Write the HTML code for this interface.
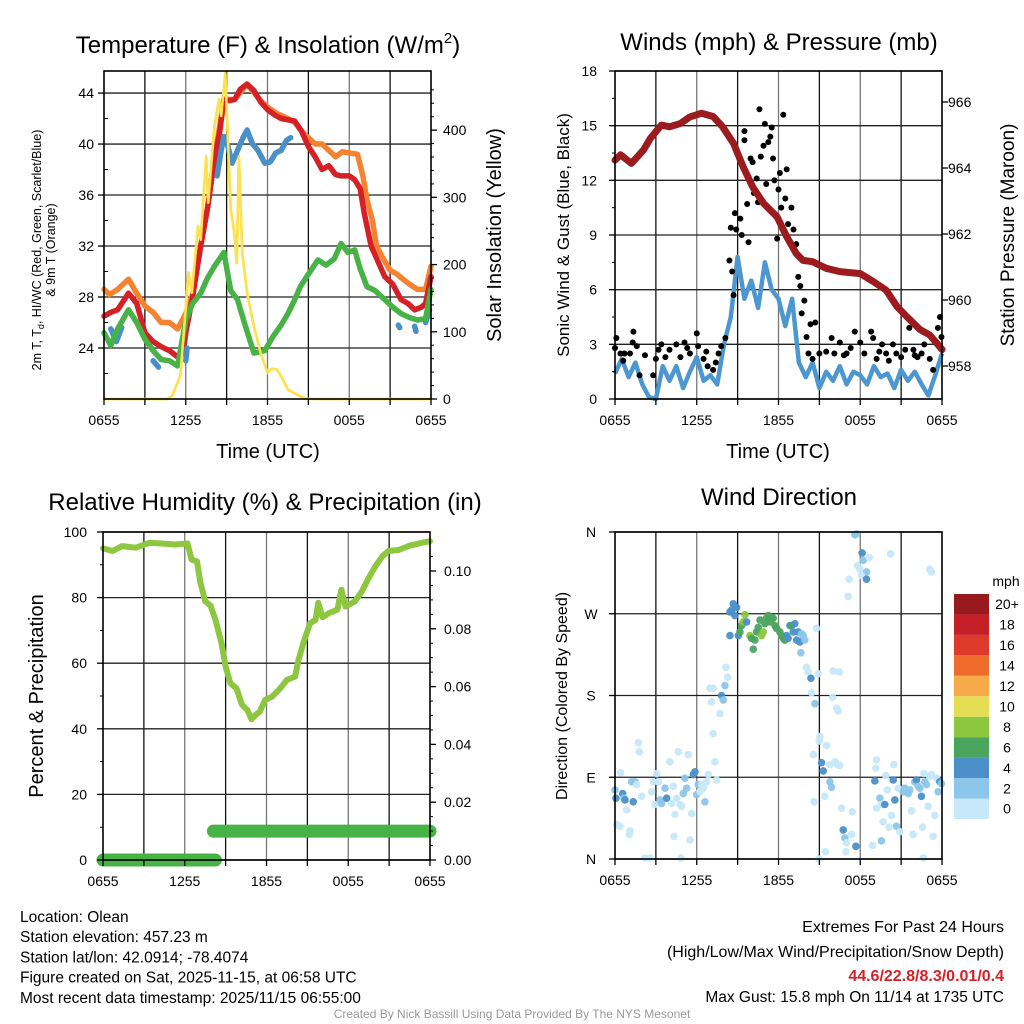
<!DOCTYPE html>
<html><head><meta charset="utf-8">
<style>
html,body{margin:0;padding:0;background:#fff;}
svg{display:block;font-family:"Liberation Sans",sans-serif;}
</style></head>
<body>
<svg id="c" width="1024" height="1024" viewBox="0 0 1024 1024" xmlns="http://www.w3.org/2000/svg">
<rect width="1024" height="1024" fill="#fff"/>
</svg>
<script>
// ---------- Temperature panel data ----------
const redHours=[0,0.5,1,1.8,2.4,3,3.6,4.2,4.8,5.4,5.8,6,6.5,7.1,7.6,8.1,8.5,8.8,9.2,9.6,10,10.5,11,11.5,12,12.5,13,13.5,14,14.5,15,15.5,16,16.5,17,17.4,18,18.4,18.8,19.1,19.6,20.1,20.6,21.2,21.8,22.3,22.8,23.3,23.6,24];
const redVals=[26.5,26.8,27,28.3,27.5,25.2,24.5,24.1,23.8,23.3,23.6,25.2,28,32,35,38.8,41,43.5,43.4,43.5,44.3,44.7,44.2,43.3,42.7,42.3,42,41.9,41.8,41,39.8,39,38,38.3,37.6,37.5,37.5,37.2,36.5,34.6,32,30.8,29.6,29,27.8,27.5,27,27.2,27.5,29.6];
const orangeHours=[0,0.4,1,1.8,2.4,3,3.6,4.2,4.8,5.4,6,6.5,7.1,7.6,8.1,8.8,9.6,10.5,11.5,12,12.7,13.5,14,14.5,15,15.5,16,16.5,17,17.5,18,18.6,19,19.3,19.7,20,20.5,21,21.5,22.3,23,23.6,24];
const orangeVals=[28.6,28.2,28.6,29.4,28.3,27.3,26.8,26,26,25.5,26.7,28.2,32,35,38.8,43.5,43.5,44.7,43.4,42.9,42.4,42,41.7,41,40.5,40,40,39.5,39,39.4,39.3,39.2,37.5,35.6,34,32,31,30.1,29.8,29.1,28.6,28.6,30.4];
const greenHours=[0,0.5,1,1.8,2.4,3,3.6,4.2,4.8,5.4,6,6.5,7.1,7.6,8.1,8.8,9.3,9.8,10.3,11,11.8,12.4,13,13.5,14,14.4,15,15.7,16.3,16.9,17.4,17.9,18.4,18.8,19.3,19.9,20.6,21.2,21.8,22.4,23,23.6,24];
const greenVals=[25.2,24.2,25.5,27,26,24.7,23.8,23.1,23,22.6,26.2,27.5,28.3,29.5,30.4,31.5,28.5,27.8,26,23.6,23.8,24.9,25.8,26.7,27.8,28.8,29.8,30.9,30.5,31,32.2,31.5,31.7,30.2,28.8,28.5,27.8,27.2,26.7,26.4,26.2,26.3,28.6];
const blueHours=[0.5,0.9,1.3,null,3.6,4.0,null,6.0,6.1,null,8.3,8.6,8.8,9.1,9.4,9.8,10.2,10.5,10.9,11.3,11.8,12.2,12.6,13,13.4,13.7,null,21.6,21.7,null,22.8,22.9,null,23.6,23.9];
const blueVals=[25.5,24.5,25.6,null,23,22.5,null,23,24,null,37.5,39.5,40.6,39.8,38.5,39.5,40.5,41.1,40,39.5,38.5,38.6,39.3,39.5,40.3,40.5,null,25.8,25.6,null,25.7,25.3,null,26,27];
const solarHours=[0,4.65,5.0,5.6,5.9,6.2,6.45,6.9,7.1,7.5,7.65,8.1,8.45,8.6,8.9,9.3,9.55,9.75,9.9,10.15,10.5,11,11.5,12,12.3,12.7,13.1,13.5,14.4,14.9,24];
const solarVals=[0,0,5,34,110,188,158,257,237,361,292,406,446,421,485,282,250,202,361,217,158,108,68,39,45,44,30,14,4,0,0];
const tempTicks=[24,28,32,36,40,44];
const solarTicks=[0,100,200,300,400];
const timeTickHours=[0,6,12,18,24];
const timeTickLabels=["0655","1255","1855","0055","0655"];

// ---------- Wind panel data ----------
const windHours=[0,0.5,1,1.5,2,2.5,3,3.5,4,4.5,5,5.5,6,6.5,7,7.5,8,8.5,9,9.5,10,10.5,11,11.5,12,12.5,13,13.5,14,14.5,15,15.5,16,16.5,17,17.5,18,18.5,19,19.5,20,20.5,21,21.5,22,22.5,23,23.5,24];
const windVals=[1.4,2.2,1.2,2,0.8,0.1,0,1.8,1,1.8,0.6,1.5,2.3,1,1.3,0.8,3,4.5,7.8,5.5,6.5,5,7.5,6,5.5,4,5.5,2,1.2,2,0.6,1.5,1,1.8,0.8,1.5,1.3,0.8,1.8,1.2,1.4,0.6,1.6,1,1.5,0.8,0.2,1.3,2.5];
const gustHours=[0,0.1,0.4,0.7,1.1,1.3,1.35,1.6,1.8,2.8,3.2,3.4,3.7,4,4.5,4.8,5.1,5.5,6,6.1,6.5,6.8,7.2,7.6,7.8,8.1,8.4,8.5,8.6,8.7,8.8,8.9,9.2,9.3,9.5,9.5,9.7,9.8,9.95,10.1,10.2,10.4,10.5,10.6,10.7,10.9,11,11.1,11.25,11.4,11.5,11.6,11.7,11.9,12,12.1,12.2,12.35,12.5,12.6,12.7,12.95,13.1,13.3,13.45,13.6,13.7,13.9,14.06,14.35,14.7,14.2,14.5,15,15.5,15.9,16.1,16.5,17,17.6,18,18.3,18.8,18.95,19.2,19.6,19.9,20.4,20.65,21,21.6,21.9,22.2,22.5,22.7,23.1,23.35,23.6,23.7,23.85,23.96,0.6,2.2,3.0,5.3,6.7,7.4,16.8,17.3,19.4,20.1,21.3,22.0];
const gustVals=[2.8,3.35,2.5,2.5,2.5,3.1,3.7,2.9,1.3,1.3,2.7,3,2.3,2.7,3,2.3,3.1,2.5,3.6,2.9,2.2,1.8,1.6,2.5,2.9,3.35,7.6,9.4,7,5.7,10.2,9.3,9.9,9,14.7,14.2,10.7,8.6,13.2,13,11.3,12.1,10.8,15.9,13.3,13.9,15.1,11.8,14.1,14.4,14.9,13.2,12,8.8,11.5,12.4,10.5,15.6,11,12.6,9.6,10.5,9.3,8.5,6.7,6.2,4.7,5.4,3.4,4.1,4.2,2.5,2.2,2.5,2.6,3.35,2.5,3.1,2.5,3.7,3.1,2.5,3.7,3.35,2.2,3,2.5,3,2.5,2.3,3.9,2.7,2.3,2.5,3,2.2,1.6,3.1,3.9,4.5,3.4,2.1,2.4,2.2,2.8,2.6,2.0,2.4,2.8,2.6,2.1,2.7,2.4];
const pressHours=[0,0.4,1.2,2.1,2.6,3.4,4.0,4.8,5.5,6.35,7.2,7.9,8.7,9.4,10.1,10.9,11.9,12.6,13.3,13.8,14.5,15.5,16.5,18,18.95,19.9,20.7,21.4,22.4,23.1,23.6,24];
const pressVals=[964.24,964.4,964.14,964.55,964.9,965.3,965.25,965.35,965.55,965.66,965.56,965.25,964.75,964.04,963.43,962.93,962.52,961.92,961.41,961.2,961.16,960.96,960.86,960.8,960.56,960.3,959.8,959.5,959.1,958.94,958.7,958.5];
const windTicks=[0,3,6,9,12,15,18];
const pressTicks=[958,960,962,964,966];

// ---------- RH panel data ----------
const rhHours=[0,0.7,1.4,2.4,3.4,4.3,5.3,6.2,6.5,6.9,7.15,7.5,7.9,8.25,8.7,9,9.35,9.8,10.2,10.6,10.9,11.2,11.5,11.9,12.4,13,13.5,14.1,14.35,14.7,15.2,15.6,15.8,16.1,16.6,17.2,17.5,17.8,18.5,19,19.5,20,20.5,20.95,21.7,22.4,23.4,24];
const rhVals=[95,94.2,95.7,95.2,96.7,96.5,96.2,96.5,91.6,91,84.5,78.9,77.5,73.3,66.1,59,53.9,52.3,47.3,45.7,42.9,44.2,45.2,48.8,49.8,52.3,54.9,55.9,61,66.1,72.2,73.2,78.4,74,75.3,76.3,82.4,77.3,78.9,81.9,86,89.6,92.6,94.2,94.5,95.7,96.7,97.2];
const precipHours=[0,8.25,null,8.1,24];
const precipVals=[0,0,null,0.01,0.01];
const rhTicks=[0,20,40,60,80,100];
const precipTicks=[0,0.02,0.04,0.06,0.08,0.10];

// ---------- Wind direction data ----------
const dirHours=[0,0.07,0.12,0.37,0.42,0.56,0.66,0.73,0.86,1.05,1.1,1.22,1.34,1.47,1.59,1.71,1.78,1.96,2.2,2.57,2.69,2.81,2.93,3.06,3.18,3.3,3.42,3.67,3.79,4.03,4.16,4.28,4.33,4.4,4.52,4.65,4.77,4.89,5.01,5.13,5.26,5.38,5.5,5.62,5.75,5.87,5.99,6.11,6.23,6.36,6.48,6.6,6.72,6.85,7.21,7.33,7.46,4.84,
6.97,7.09,7.21,7.7,7.82,7.95,8.07,8.14,8.26,
8.44,8.56,8.68,8.8,8.92,8.44,9.05,9.17,9.29,9.41,9.54,9.66,9.9,10.02,10.15,10.27,10.39,10.51,10.64,10.76,10.88,11.0,11.12,11.25,11.37,11.49,11.61,11.74,11.86,12.1,12.23,12.35,12.47,12.59,12.71,12.84,12.96,13.08,13.2,13.33,13.45,13.57,13.69,13.81,13.94,13.64,14.79,
14.06,14.18,14.38,14.91,16.01,16.46,14.43,14.67,15.97,16.26,16.38,15.04,14.99,15.53,14.55,15.16,15.28,15.77,16.14,16.31,16.5,15.77,15.89,15.4,14.62,16.63,17.41,16.75,16.87,16.99,17.36,17.68,16.94,15.45,14.96,18.9,19.56,
17.6,17.73,18.14,18.22,18.66,17.8,17.97,18.46,18.09,18.46,17.19,17.11,20.22,23.1,23.23,
19.07,19.19,19.14,19.44,19.56,19.68,19.8,19.88,19.98,20.12,20.29,20.42,20.46,20.54,20.66,20.78,20.9,21.15,21.27,21.39,21.52,21.64,21.76,21.88,22.0,22.13,22.25,22.37,22.49,22.57,22.67,22.74,22.86,22.98,23.1,23.23,23.35,23.47,23.6,23.72,23.84,23.96,22.62,19.19];
const dirDegrees=[76,67,38,36,95,72,67,65,54,27,31,85,63,85,82,128,118,69,1,1,74,85,60,94,85,65,61,78,67,107,61,80,25,49,67,118,60,58,72,89,78,115,21,50,93,96,71,82,74,82,78,63,85,93,138,107,87,1,
188,173,188,160,180,175,191,211,200,
272,274,281,268,277,246,246,250,257,261,269,261,246,243,231,241,250,255,263,246,250,259,265,268,261,266,265,257,254,250,246,243,241,246,243,257,257,250,259,241,250,239,248,246,241,227,254,
211,206,199,204,207,206,183,171,178,166,163,135,130,125,115,106,97,104,107,104,103,85,79,69,63,56,52,32,23,18,27,14,8,8,0,15,20,
357,358,337,329,332,323,319,316,312,308,308,289,336,319,316,
86,109,100,67,60,41,60,92,76,35,48,87,104,65,36,78,30,74,78,76,72,76,53,27,85,87,80,78,69,35,94,85,82,58,91,93,25,48,89,74,85,83,1,56];
const dirSpeeds=[3,5,1,1,1,5,3,5,1,1,1,3,5,3,1,1,1,1,1,1,1,1,1,1,1,3,3,3,5,1,1,1,1,1,1,1,1,1,3,3,3,1,1,1,5,5,3,3,1,1,1,3,1,1,1,1,1,1,
1,1,1,1,5,3,3,1,1,
5,5,5,5,5,5,5,7,7,9,9,5,9,7,7,7,7,7,7,9,9,7,7,7,7,7,7,7,7,7,7,7,7,5,5,5,7,5,5,5,5,5,3,3,3,3,1,
1,1,5,1,1,1,1,3,1,1,1,1,1,1,1,5,5,1,1,1,1,3,3,1,1,1,1,5,3,1,1,5,1,1,1,1,3,
3,3,5,3,1,1,1,3,1,5,1,1,1,1,1,
5,1,1,3,1,1,5,1,1,1,1,5,1,5,3,1,1,3,3,3,3,3,1,1,3,5,3,3,5,1,1,3,3,1,1,1,1,1,1,3,5,3,1,1];
const dirTickDeg=[0,90,180,270,360];
const dirTickLabels=["N","E","S","W","N"];
const cbLabels=["0","2","4","6","8","10","12","14","16","18","20+"];
const cbColors=["#c6e8f8","#8cc6ea","#4b90c9","#4aa55e","#8dc63f","#e5dd52","#f6aa48","#ef6b2e","#dd3a2c","#c41f27","#981a1d"];

// ---------- drawing helpers ----------
const NS="http://www.w3.org/2000/svg";
const svg=document.getElementById('c');
function mk(tag,attrs,parent){const e=document.createElementNS(NS,tag);for(const k in attrs)e.setAttribute(k,attrs[k]);(parent||svg).appendChild(e);return e;}
function txt(s,x,y,size,anchor,parent,extra){const t=mk('text',Object.assign({x:x,y:y,'font-size':size,'text-anchor':anchor||'middle',fill:'#000'},extra||{}),parent);t.textContent=s;return t;}
function lin(x1,x2,d0,d1,r0,r1){return v=>r0+(v-d0)*(r1-r0)/(d1-d0);}
function pathD(hs,vs,sx,sy){let d='',pen=false;for(let i=0;i<hs.length;i++){if(hs[i]===null||vs[i]===null){pen=false;continue;}d+=(pen?'L':'M')+sx(hs[i]).toFixed(1)+' '+sy(vs[i]).toFixed(1);pen=true;}return d;}
function gridAndFrame(g,X0,X1,Y0,Y1,sx,yPix){
  for(let h=3;h<24;h+=3){const gl=mk('line',{x1:sx(h),x2:sx(h),y1:Y0,y2:Y1,stroke:(h%6===0)?'#777':'#111','stroke-width':1.3},g);
    
    }
  yPix.forEach(y=>{const gl=mk('line',{x1:X0,x2:X1,y1:y,y2:y,stroke:'#222','stroke-width':1.3},g);
    
    });
}
function frame(g,X0,X1,Y0,Y1){const r=mk('rect',{x:X0,y:Y0,width:X1-X0,height:Y1-Y0,fill:'none',stroke:'#000','stroke-width':1.6},g);
  
  }
function xAxis(g,sx,Y1){
  for(let h=0;h<=24;h+=3){mk('line',{x1:sx(h),x2:sx(h),y1:Y1,y2:Y1+6,stroke:'#000','stroke-width':1.3},g);}
  timeTickHours.forEach((h,i)=>{const t=txt(timeTickLabels[i],sx(h),Y1+26,14,'middle',g);
    
    });
}

// ---------- Panel 1: temperature ----------
(function(){
 const X0=104,X1=431,Y0=71,Y1=399;
 const g=mk('g',{});
 
 
 const sx=lin(0,0,0,24,X0,X1), sy=lin(0,0,20,45.73,Y1,Y0), ss=lin(0,0,0,488,Y1,Y0);
 gridAndFrame(g,X0,X1,Y0,Y1,sx,tempTicks.map(sy));
 const series=[[solarHours,solarVals,ss,'#fde24f',2.6,'solar-insolation-line'],[orangeHours,orangeVals,sy,'#f58231',5.5,'temp-9m-line'],[redHours,redVals,sy,'#d62027',5.5,'temp-2m-line'],[blueHours,blueVals,sy,'#4a8fc8',5.5,'heat-index-windchill-line'],[greenHours,greenVals,sy,'#47b246',5.5,'dewpoint-line']];
 series.forEach(s=>{const p=mk('path',{d:pathD(s[0],s[1],sx,s[2]),fill:'none',stroke:s[3],'stroke-width':s[4],'stroke-linejoin':'round','stroke-linecap':'round'},g);
   
   });
 const p2=mk('path',{d:pathD(solarHours,solarVals,sx,ss),fill:'none',stroke:'#fde24f','stroke-width':2.6,'stroke-linejoin':'round'},g);
 
 
 frame(g,X0,X1,Y0,Y1);
 xAxis(g,sx,Y1);
 tempTicks.forEach(v=>{mk('line',{x1:X0-6,x2:X0,y1:sy(v),y2:sy(v),stroke:'#000','stroke-width':1.3},g);
   const t=txt(String(v),X0-10,sy(v)+5,14,'end',g);
   
   });
 for(let v=22;v<46;v+=4){mk('line',{x1:X0,x2:X0+4,y1:sy(v),y2:sy(v),stroke:'#000','stroke-width':1},g);}
 solarTicks.forEach(v=>{mk('line',{x1:X1,x2:X1+6,y1:ss(v),y2:ss(v),stroke:'#000','stroke-width':1.3},g);
   const t=txt(String(v),X1+12,ss(v)+5,14,'start',g);
   
   });
 for(let v=20;v<480;v+=20){if(v%100)mk('line',{x1:X1,x2:X1+3,y1:ss(v),y2:ss(v),stroke:'#000','stroke-width':1},g);}
 const title=mk('text',{x:268,y:53,'font-size':24,'text-anchor':'middle',fill:'#000'},g);
 
 
 title.innerHTML='Temperature (F) &amp; Insolation (W/m<tspan dy="-10" font-size="15">2</tspan><tspan dy="10">)</tspan>';
 const yl=mk('text',{transform:'translate(41,250) rotate(-90)','font-size':12.5,'text-anchor':'middle',fill:'#000'},g);
 
 
 yl.innerHTML='2m T, T<tspan dy="3" font-size="9">d</tspan><tspan dy="-3">, HI/WC (Red, Green, Scarlet/Blue)</tspan>';
 const yl2=txt('& 9m T (Orange)',0,0,12.5,'middle',g,{transform:'translate(55,250) rotate(-90)'});
 
 
 const yr=txt('Solar Insolation (Yellow)',0,0,20,'middle',g,{transform:'translate(501,235) rotate(-90)'});
 
 
 const xt=txt('Time (UTC)',268,458,20,'middle',g);
 
 
})();

// ---------- Panel 2: winds ----------
(function(){
 const X0=615,X1=942,Y0=71,Y1=399;
 const g=mk('g',{});
 
 
 const sx=lin(0,0,0,24,X0,X1), sy=lin(0,0,0,18,Y1,Y0), sp=lin(0,0,957,966.94,Y1,Y0);
 gridAndFrame(g,X0,X1,Y0,Y1,sx,windTicks.map(sy));
 const pw=mk('path',{d:pathD(windHours,windVals,sx,sy),fill:'none',stroke:'#4d97d1','stroke-width':4.5,'stroke-linejoin':'round'},g);
 
 
 gustHours.forEach((h,i)=>{const c=mk('circle',{cx:sx(h),cy:sy(gustVals[i]),r:3,fill:'#000'},g);
   
   });
 const pp=mk('path',{d:pathD(pressHours,pressVals,sx,sp),fill:'none',stroke:'#9b1b1e','stroke-width':7,'stroke-linejoin':'round','stroke-linecap':'round'},g);
 
 
 frame(g,X0,X1,Y0,Y1);
 xAxis(g,sx,Y1);
 windTicks.forEach(v=>{mk('line',{x1:X0-6,x2:X0,y1:sy(v),y2:sy(v),stroke:'#000','stroke-width':1.3},g);
   const t=txt(String(v),X0-18,sy(v)+5,14,'end',g);
   
   });
 for(let v=1.5;v<18;v+=3){mk('line',{x1:X0-3,x2:X0,y1:sy(v),y2:sy(v),stroke:'#000','stroke-width':1},g);}
 pressTicks.forEach(v=>{mk('line',{x1:X1,x2:X1+6,y1:sp(v),y2:sp(v),stroke:'#000','stroke-width':1.3},g);
   const t=txt(String(v),X1+6,sp(v)+5,14,'start',g);
   
   });
 const title=txt('Winds (mph) & Pressure (mb)',779,50,24,'middle',g);
 
 
 const yl=txt('Sonic Wind & Gust (Blue, Black)',0,0,17,'middle',g,{transform:'translate(569,235) rotate(-90)'});
 
 
 const yr=txt('Station Pressure (Maroon)',0,0,19,'middle',g,{transform:'translate(1014,235) rotate(-90)'});
 
 
 const xt=txt('Time (UTC)',778,458,20,'middle',g);
 
 
})();

// ---------- Panel 3: RH ----------
(function(){
 const X0=103,X1=430,Y0=532,Y1=860;
 const g=mk('g',{});
 
 
 const sx=lin(0,0,0,24,X0,X1), sy=lin(0,0,0,100,Y1,Y0), sq=lin(0,0,0,0.1,Y1,571);
 gridAndFrame(g,X0,X1,Y0,Y1,sx,rhTicks.map(sy));
 const pq=mk('path',{d:pathD(precipHours,precipVals,sx,sq),fill:'none',stroke:'#47b246','stroke-width':13,'stroke-linecap':'round'},g);
 
 
 const pr=mk('path',{d:pathD(rhHours,rhVals,sx,sy),fill:'none',stroke:'#8dc63f','stroke-width':6,'stroke-linejoin':'round','stroke-linecap':'round'},g);
 
 
 frame(g,X0,X1,Y0,Y1);
 xAxis(g,sx,Y1);
 rhTicks.forEach(v=>{mk('line',{x1:X0-6,x2:X0,y1:sy(v),y2:sy(v),stroke:'#000','stroke-width':1.3},g);
   const t=txt(String(v),X0-16,sy(v)+5,14,'end',g);
   
   });
 for(let v=10;v<100;v+=20){mk('line',{x1:X0-3,x2:X0,y1:sy(v),y2:sy(v),stroke:'#000','stroke-width':1},g);}
 precipTicks.forEach(v=>{mk('line',{x1:X1,x2:X1+6,y1:sq(v),y2:sq(v),stroke:'#000','stroke-width':1.3},g);
   const t=txt(v.toFixed(2),X1+14,sq(v)+5,14,'start',g);
   
   });
 for(let v=0.005;v<0.11;v+=0.005){mk('line',{x1:X1,x2:X1+3,y1:sq(v),y2:sq(v),stroke:'#000','stroke-width':1},g);}
 const title=txt('Relative Humidity (%) & Precipitation (in)',265,510,24,'middle',g);
 
 
 const yl=txt('Percent & Precipitation',0,0,20,'middle',g,{transform:'translate(43,696) rotate(-90)'});
 
 
})();

// ---------- Panel 4: wind direction ----------
(function(){
 const X0=615,X1=942,Y0=532,Y1=859;
 const g=mk('g',{});
 
 
 const sx=lin(0,0,0,24,X0,X1), sy=lin(0,0,0,360,Y1,Y0);
 gridAndFrame(g,X0,X1,Y0,Y1,sx,dirTickDeg.map(sy));
 function colorFor(s){return cbColors[Math.min(10,Math.max(0,Math.floor(s/2)))];}
 dirHours.forEach((h,i)=>{const c=mk('circle',{cx:sx(h),cy:sy(dirDegrees[i]),r:3.8,fill:colorFor(dirSpeeds[i]),'fill-opacity':0.95},g);
   
   });
 frame(g,X0,X1,Y0,Y1);
 xAxis(g,sx,Y1);
 dirTickDeg.forEach((v,i)=>{mk('line',{x1:X0-6,x2:X0,y1:sy(v),y2:sy(v),stroke:'#000','stroke-width':1.3},g);
   const t=txt(dirTickLabels[i],X0-24,sy(v)+5,14,'middle',g);
   
   });
 const title=txt('Wind Direction',779,505,24,'middle',g);
 
 
 const yl=txt('Direction (Colored By Speed)',0,0,16,'middle',g,{transform:'translate(567,696) rotate(-90)'});
 
 
 const cb=mk('g',{},g);
 
 
 const bx=954,bw=35,btop=594,bh=20.45;
 cbColors.forEach((c,i)=>{const y=btop+(10-i)*bh;const r=mk('rect',{x:bx,y:y,width:bw,height:bh,fill:c},cb);
   
   
   const t=txt(cbLabels[i],1007,y+bh/2+5,14,'middle',cb);
   
   });
 const u=txt('mph',1006,586,14,'middle',cb);
 
 
})();

// ---------- Footer text ----------
(function(){
 const g=mk('g',{});
 
 
 const lines=["Location: Olean","Station elevation: 457.23 m","Station lat/lon: 42.0914; -78.4074","Figure created on Sat, 2025-11-15, at 06:58 UTC","Most recent data timestamp: 2025/11/15 06:55:00"];
 lines.forEach((s,i)=>{const t=txt(s,20,922+i*20.2,15.5,'start',g);
   
   });
 const g2=mk('g',{});
 
 
 const a=txt('Extremes For Past 24 Hours',1004,932,16,'end',g2);
 const b=txt('(High/Low/Max Wind/Precipitation/Snow Depth)',1004,957,16,'end',g2);
 const c=txt('44.6/22.8/8.3/0.01/0.4',1004,981,16,'end',g2,{fill:'#d62027','font-weight':'bold'});
 const d=txt('Max Gust: 15.8 mph On 11/14 at 1735 UTC',1004,1002,15.5,'end',g2);
 const f=txt('Created By Nick Bassill Using Data Provided By The NYS Mesonet',512,1018,12,'middle',null,{fill:'#999'});
 
 
})();
</script>
</body></html>
